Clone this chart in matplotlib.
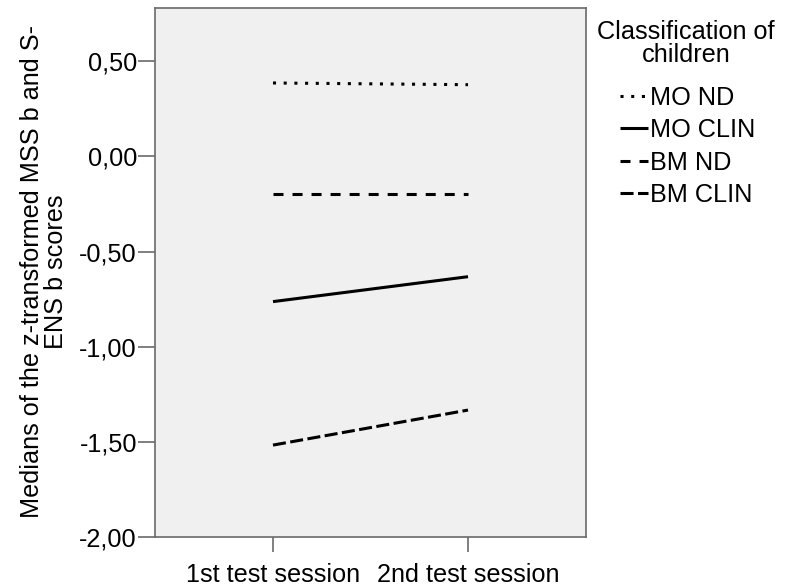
import matplotlib
matplotlib.use('Agg')
from matplotlib import pyplot
import numpy

# data
sessions = ['1st test session', '2nd test session']
groups = ['MO ND', 'MO CLIN', 'BM ND', 'BM CLIN']
mo_nd = [0.386, 0.377]
mo_clin = [-0.763, -0.632]
bm_nd = [-0.20, -0.20]
bm_clin = [-1.517, -1.333]
yticks = [0.5, 0.0, -0.5, -1.0, -1.5, -2.0]

pyplot.rcParams['font.family'] = ['Liberation Sans', 'DejaVu Sans']
pyplot.rcParams['lines.scale_dashes'] = False
FS = 18.2

W, H = 787, 586
fig = pyplot.figure(figsize=(W / 100, H / 100), dpi=100)
ax = fig.add_axes([155 / W, 1 - 537 / H, (586 - 155) / W, (537 - 8) / H])
ax.set_facecolor('#f0f0f0')

x = numpy.arange(len(sessions))
styles = [(0, (2.2, 5.5)), '-', (0, (7.2, 6.5)), (0, (9.4, 3.2))]
for vals, name, ls in zip([mo_nd, mo_clin, bm_nd, bm_clin], groups, styles):
    ax.plot(x, vals, color='black', linewidth=2.2, linestyle=ls,
            dash_capstyle='butt', solid_capstyle='butt', label=name)

ax.set_xlim(-0.605, 1.605)
ax.set_ylim(-2.0, 0.78)
ax.set_xticks(x)
ax.set_xticklabels(sessions)
ax.set_yticks(yticks)
ax.set_yticklabels([('%.2f' % v).replace('.', ',') for v in yticks])

for sp in ax.spines.values():
    sp.set_color('#6a6a6a')
    sp.set_linewidth(1.2)
ax.tick_params(axis='y', length=12, width=1.2, color='#6a6a6a', pad=1, labelsize=FS)
ax.tick_params(axis='x', length=11, width=1.2, color='#6a6a6a', pad=7.5, labelsize=FS)

fig.text(44 / W, 1 - 272 / H,
         'Medians of the z-transformed MSS b and S-\nENS b scores',
         rotation=90, ha='center', va='center', fontsize=FS,
         linespacing=1.0, multialignment='center')

# legend title drawn separately so the gap to the entries can match
fig.text(686 / W, 1 - 43.5 / H, 'Classification of\nchildren',
         ha='center', va='center', fontsize=FS, linespacing=0.95,
         multialignment='center')
leg = fig.legend(loc='upper left', bbox_to_anchor=(620 / W, 1 - 86 / H),
                 fontsize=FS, frameon=False, handlelength=1.1,
                 handletextpad=0.08, labelspacing=0.33, borderpad=0,
                 borderaxespad=0)

fig.savefig('out.png', dpi=100)
